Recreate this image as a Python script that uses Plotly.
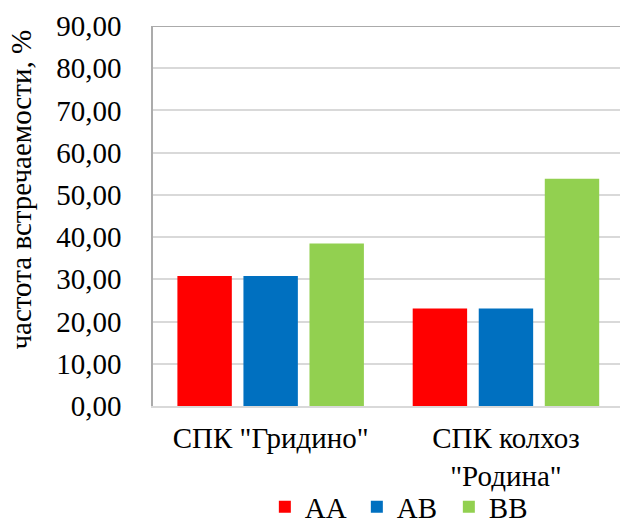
import plotly.graph_objects as go

# Genotype frequencies by farm, %
farms = ['СПК "Гридино"', 'СПК колхоз<br>"Родина"']
genotypes = ["AA", "AB", "BB"]
freq_aa = [30.77, 23.08]
freq_ab = [30.77, 23.08]
freq_bb = [38.46, 53.85]
colors = ["#FF0000", "#0070C0", "#92D050"]
y_title = "частота встречаемости, %"

FONT = "Liberation Serif, Times New Roman, serif"
base_font = dict(family=FONT, size=29, color="#000000")

fig = go.Figure()
for name, vals, col in zip(genotypes, [freq_aa, freq_ab, freq_bb], colors):
    fig.add_trace(go.Bar(x=farms, y=vals, name=name, marker=dict(color=col, line=dict(width=0))))

W, H = 620, 523
ML, MR, MT, MB = 153, 0, 26, 117
plot_w = W - ML - MR
plot_h = H - MT - MB

fig.update_layout(
    width=W, height=H, autosize=False,
    margin=dict(l=ML, r=MR, t=MT, b=MB, pad=0),
    paper_bgcolor="white", plot_bgcolor="white",
    font=base_font,
    separators=", ",
    barmode="group", bargap=0.158, bargroupgap=0.176,
    showlegend=True,
    legend=dict(orientation="h", x=0.535, xanchor="center",
                yref="container", y=0.031, yanchor="middle",
                entrywidth=47, entrywidthmode="pixels", font=base_font,
                bgcolor="rgba(0,0,0,0)", itemclick=False),
    xaxis=dict(range=[-0.5, 1.4847], showline=True, linecolor="#D9D9D9", linewidth=2,
               showgrid=False, ticks="", ticklabelstandoff=5, tickfont=base_font,
               automargin=False),
    yaxis=dict(range=[0, 90], dtick=10, tickformat=".2f", showgrid=True, gridcolor="#D9D9D9",
               gridwidth=1.5, showline=True, linecolor="#ABABAB", linewidth=1.5, zeroline=False,
               ticks="", ticklabelstandoff=24, tickfont=base_font, automargin=False),
    shapes=[dict(type="line", xref="paper", x0=0, x1=1, yref="y", y0=90, y1=90,
                 line=dict(color="#ABABAB", width=2))],
    annotations=[dict(text=y_title, textangle=-90, showarrow=False,
                      xref="paper", x=(21 - ML) / plot_w, xanchor="center",
                      yref="paper", y=(406 - 189.5) / plot_h, yanchor="middle",
                      font=base_font)],
)

fig.write_html("out.html")
